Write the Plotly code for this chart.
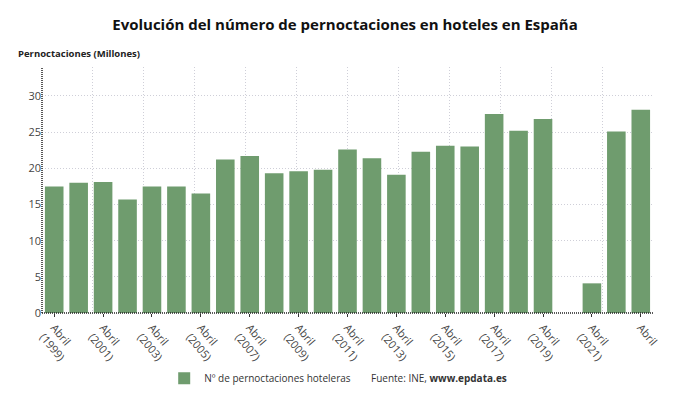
import plotly.graph_objects as go

years = list(range(1999, 2024))
values = [17.5, 18.0, 18.1, 15.7, 17.5, 17.5, 16.5, 21.2, 21.7, 19.3, 19.6, 19.8,
          22.6, 21.4, 19.1, 22.3, 23.1, 23.0, 27.5, 25.2, 26.8, 0.0, 4.1, 25.1, 28.1]
tick_labels = ["Abril<br>(1999)", "Abril<br>(2001)", "Abril<br>(2003)", "Abril<br>(2005)",
               "Abril<br>(2007)", "Abril<br>(2009)", "Abril<br>(2011)", "Abril<br>(2013)",
               "Abril<br>(2015)", "Abril<br>(2017)", "Abril<br>(2019)", "Abril<br>(2021)",
               "Abril"]
series_name = "Nº de pernoctaciones hoteleras"

idx = list(range(len(years)))
FONT = "Open Sans"
GRID = "#cfcfd8"

fig = go.Figure()
fig.add_trace(go.Bar(
    x=idx, y=values, name=series_name,
    marker=dict(color="#6f9c6e", line=dict(width=0)),
    width=0.76,
))

fig.update_layout(
    width=690, height=405,
    margin=dict(l=42, r=37, t=67, b=89),
    paper_bgcolor="white", plot_bgcolor="white",
    font=dict(family=FONT, color="#444", size=11),
    title=dict(text="<b>Evolución del número de pernoctaciones en hoteles en España</b>",
               x=0.5, xanchor="center", y=0.94, yanchor="middle",
               font=dict(size=15, color="#111", family=FONT)),
    showlegend=True,
    legend=dict(orientation="h", x=0.2, xanchor="left", y=-0.265, yanchor="middle",
                font=dict(size=10, color="#333", family=FONT),
                itemwidth=30, bgcolor="rgba(0,0,0,0)"),
    bargap=0.2,
)

fig.update_xaxes(
    range=[-0.5, len(years) - 0.5], automargin=False,
    tickmode="array", tickvals=idx[::2], ticktext=tick_labels,
    tickangle=50, tickfont=dict(size=11, color="#444"),
    showgrid=False, zeroline=False, showline=False,
    ticks="outside", ticklen=3, tickcolor="#333",
    minor=dict(tickmode="linear", tick0=-0.5, dtick=len(years) / 12, ticks="",
               showgrid=True, gridcolor=GRID, griddash="1px,2px", gridwidth=1),
)
fig.update_yaxes(
    range=[0, 34], tickmode="linear", tick0=0, dtick=5, automargin=False,
    showgrid=True, gridcolor=GRID, griddash="1px,2px", gridwidth=1,
    zeroline=False, showline=False,
    ticks="", tickfont=dict(size=11, color="#444"),
)

# dotted axis lines
fig.add_shape(type="line", xref="paper", yref="paper", x0=0, x1=0, y0=0, y1=1,
              line=dict(color="#222", width=1.5, dash="1px,1px"))
fig.add_shape(type="line", xref="paper", yref="paper", x0=0, x1=1, y0=0, y1=0,
              line=dict(color="#222", width=1.5, dash="1px,1px"))

fig.add_annotation(text="<b>Pernoctaciones (Millones)</b>", xref="paper", yref="paper",
                   x=-0.042, y=1.055, xanchor="left", yanchor="middle", showarrow=False,
                   font=dict(size=9.5, color="#222", family=FONT))
fig.add_annotation(text="Fuente: INE, <b>www.epdata.es</b>", xref="paper", yref="paper",
                   x=0.535, y=-0.265, xanchor="left", yanchor="middle", showarrow=False,
                   font=dict(size=10, color="#333", family=FONT))

fig.write_html("out.html", config={"displayModeBar": False},
               post_script="document.body.style.margin='0';")
